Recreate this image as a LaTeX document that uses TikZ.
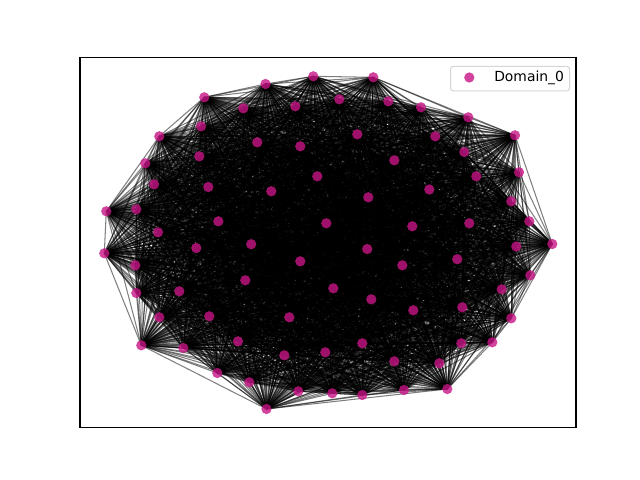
\documentclass[tikz,border=0pt]{standalone}
\usepackage{fontspec}
\setmainfont{DejaVu Sans}
\usetikzlibrary{backgrounds}
\definecolor{mvr}{RGB}{199,21,133}
\definecolor{legedge}{RGB}{204,204,204}
\tikzset{
  dot/.style={circle, fill=mvr, fill opacity=0.8, inner sep=0pt, minimum size=7.4pt},
  edge/.style={draw=black, draw opacity=0.5, line width=0.75pt},
  frame/.style={draw=black, line width=0.8pt},
  legbox/.style={draw=legedge, fill=white, fill opacity=0.8, draw opacity=0.8, rounded corners=2pt, line width=0.8pt}
}
\begin{document}
\begin{tikzpicture}[x=0.72pt, y=-0.72pt]
\useasboundingbox (0,0) rectangle (640,480);
\foreach \k/\px/\py in {
1/265.5/84, 2/313.3/76.3, 3/373.3/77.3, 4/204.3/97.3, 5/339.3/99.3, 6/388.3/101.3,
7/295.3/106.3, 8/243.3/108.3, 9/421/107.3, 10/468.3/117.3, 11/201/126.3, 12/515/135.3,
13/435.3/136.3, 14/159.3/136.3, 15/357.3/134.3, 16/257.3/142.3, 17/300.3/146.3, 18/199.3/156.3,
19/464.3/152, 20/394.3/160.3, 21/145.3/163.3, 22/519/172.3, 23/476.3/176.3, 24/317.3/176.3,
25/154/184.3, 26/208.3/187, 27/271.3/191.3, 28/429.3/189.5, 29/368.3/197.3, 30/106.3/211.3,
31/136.3/209.3, 32/511.3/201.3, 33/218.3/221.3, 34/326.3/223.3, 35/412.3/226.3, 36/529.3/221.3,
37/469.3/223.3, 38/158/232.3, 39/552.3/244, 40/104.3/253.3, 41/516.3/246.5, 42/196.3/248,
43/251.2/244.2, 44/367.2/249, 45/457.2/259.2, 46/300.3/261.3, 47/135.3/265.3, 48/402.3/265.3,
49/530.3/275.3, 50/245.3/280.3, 51/179.3/291.3, 52/136.3/293, 53/333.3/288.3, 54/501.7/289.3,
55/371.3/299.3, 56/159.3/317.3, 57/209.3/316.3, 58/289.3/317.3, 59/413.3/310.3, 60/462.3/307.3,
61/511.3/318.3, 62/141.3/345.3, 63/183.3/348, 64/238/341.3, 65/325.3/352.3, 66/362.3/343.3,
67/461.3/343.3, 68/492.3/342.3, 69/284.3/355.3, 70/394.3/361.3, 71/439.3/363.3, 72/217.3/373,
73/249.3/382.3, 74/298.3/391.3, 75/332.3/393.3, 76/362.3/395, 77/404/390, 78/447.3/389,
79/266.5/409}
  {\node[dot] (n\k) at (\px,\py) {};}
\begin{scope}[on background layer]
\fill[white] (0,0) rectangle (640,480);
\foreach \i in {1,...,78}{
  \pgfmathtruncatemacro\s{\i+1}
  \foreach \j in {\s,...,79}{
    \draw[edge] (n\i.center) -- (n\j.center);
  }
}
\end{scope}
\draw[frame] (80,57.6) rectangle (576,427.2);
\node[legbox, minimum width=119*0.72pt, minimum height=24.5*0.72pt, anchor=north west, inner sep=0pt] (leg) at (450,65.8) {};
\node[dot] (legdot) at (469.3,77.5) {};
\node[anchor=west, inner sep=0pt, font=\fontsize{10pt}{12pt}\selectfont] (legtxt) at (494,77.5) {Domain\_0};
\end{tikzpicture}
\end{document}
